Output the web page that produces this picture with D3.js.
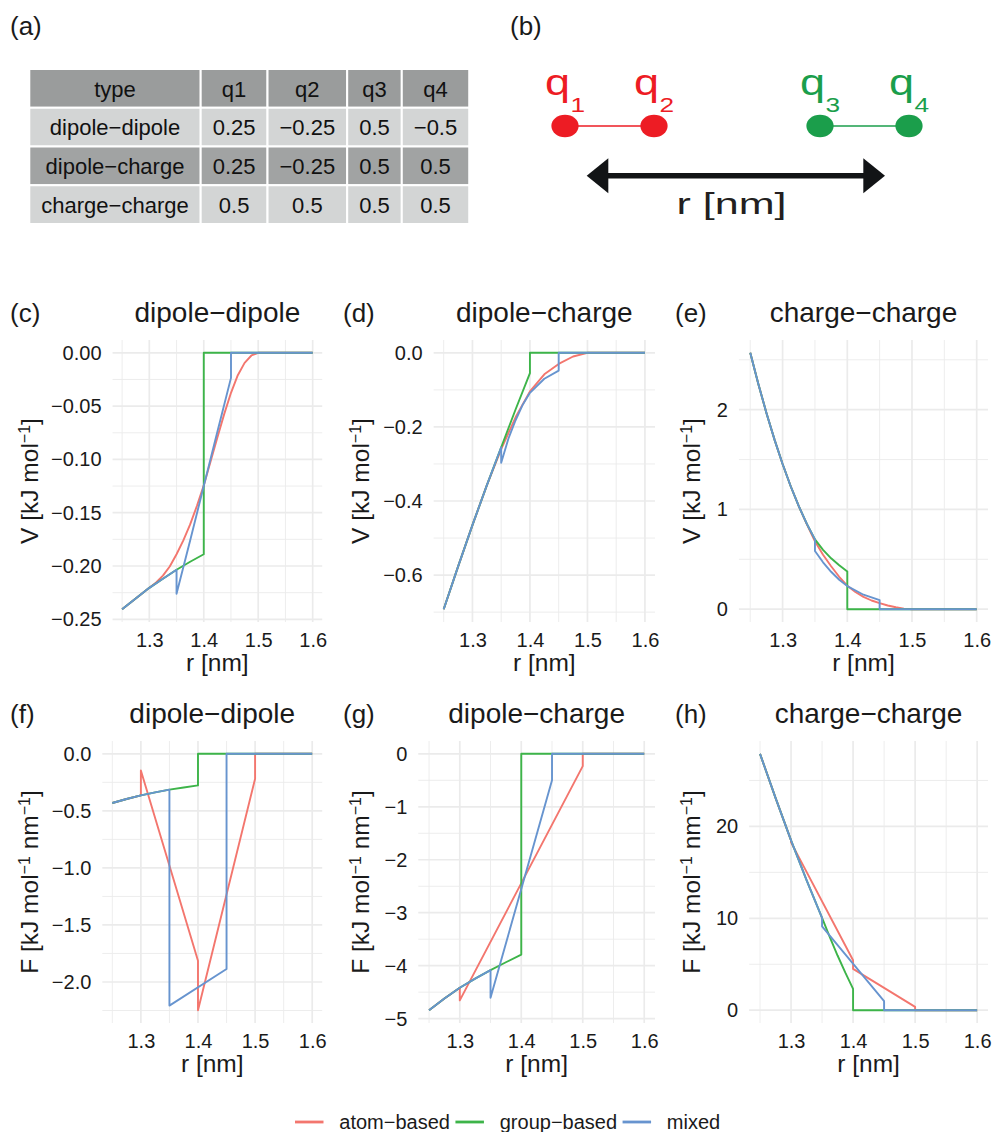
<!DOCTYPE html>
<html>
<head>
<meta charset="utf-8">
<script src="https://cdn.jsdelivr.net/npm/d3@7"></script>
<style>
  body { margin: 0; background: #fff; }
  text { font-family: "Liberation Sans", Arial, Helvetica, sans-serif; }
</style>
</head>
<body>
<div id="fig"></div>
<script>
// ---- data ----
var methodLabels = ["atom−based", "group−based", "mixed"];
var methodColors = ["#f3766e", "#3db449", "#6794cf"];

var tableHeader = ["type", "q1", "q2", "q3", "q4"];
var tableTypes = ["dipole−dipole", "dipole−charge", "charge−charge"];
var tableQ1 = ["0.25", "0.25", "0.5"];
var tableQ2 = ["−0.25", "−0.25", "0.5"];
var tableQ3 = ["0.5", "0.5", "0.5"];
var tableQ4 = ["−0.5", "0.5", "0.5"];

var xTicks = [1.3, 1.4, 1.5, 1.6];

// (c) V, dipole-dipole   [r, V]
var vDDAtom = [[1.25,-0.2405],[1.275,-0.2305],[1.3,-0.2205],[1.3125,-0.2155],[1.325,-0.209],[1.3375,-0.2005],
  [1.35,-0.189],[1.3625,-0.176],[1.375,-0.161],[1.3875,-0.1435],[1.4,-0.1244],[1.4125,-0.102],[1.425,-0.0794],
  [1.4375,-0.0575],[1.45,-0.0375],[1.4625,-0.021],[1.475,-0.0094],[1.4875,-0.0025],[1.5,0],[1.6,0]];
var vDDGroup = [[1.25,-0.2405],[1.275,-0.2305],[1.3,-0.2205],[1.325,-0.212],[1.35,-0.2035],[1.375,-0.196],
  [1.4,-0.189],[1.4,0],[1.6,0]];
var vDDMixed = [[1.25,-0.2405],[1.275,-0.2305],[1.3,-0.2205],[1.325,-0.212],[1.35,-0.2035],[1.35,-0.226],
  [1.375,-0.176],[1.4,-0.125],[1.425,-0.074],[1.45,-0.0235],[1.45,0],[1.6,0]];
var vDDTicks = [-0.25, -0.2, -0.15, -0.1, -0.05, 0];

// (d) V, dipole-charge
var vDCAtom = [[1.25,-0.692],[1.275,-0.577],[1.3,-0.465],[1.325,-0.358],[1.35,-0.26],[1.375,-0.174],
  [1.4,-0.104],[1.425,-0.058],[1.45,-0.03],[1.475,-0.01],[1.5,0],[1.6,0]];
var vDCGroup = [[1.25,-0.692],[1.275,-0.577],[1.3,-0.465],[1.325,-0.358],[1.35,-0.255],[1.375,-0.153],
  [1.4,-0.055],[1.4,0],[1.6,0]];
var vDCMixed = [[1.25,-0.692],[1.275,-0.577],[1.3,-0.465],[1.325,-0.358],[1.35,-0.255],[1.35,-0.297],
  [1.3625,-0.232],[1.375,-0.182],[1.3875,-0.14],[1.4,-0.108],[1.425,-0.07],[1.45,-0.048],[1.45,0],[1.6,0]];
var vDCTicks = [-0.6, -0.4, -0.2, 0];

// (e) V, charge-charge
var vCCAtom = [[1.25,2.57],[1.2625,2.2575],[1.275,1.9675],[1.2875,1.7],[1.3,1.455],[1.3125,1.2325],[1.325,1.0325],
  [1.3375,0.85],[1.35,0.68],[1.3625,0.545],[1.375,0.43],[1.3875,0.325],[1.4,0.235],[1.4125,0.172],[1.425,0.123],
  [1.4375,0.087],[1.45,0.06],[1.4625,0.037],[1.475,0.019],[1.4875,0.006],[1.5,0],[1.6,0]];
var vCCGroup = [[1.25,2.57],[1.2625,2.2575],[1.275,1.9675],[1.2875,1.7],[1.3,1.455],[1.3125,1.2325],[1.325,1.0325],
  [1.3375,0.855],[1.35,0.70],[1.3625,0.595],[1.375,0.51],[1.3875,0.44],[1.4,0.377],[1.4,0],[1.6,0]];
var vCCMixed = [[1.25,2.57],[1.2625,2.2575],[1.275,1.9675],[1.2875,1.7],[1.3,1.455],[1.3125,1.2325],[1.325,1.0325],
  [1.3375,0.855],[1.35,0.70],[1.35,0.583],[1.3625,0.47],[1.375,0.375],[1.3875,0.295],[1.4,0.232],[1.425,0.145],
  [1.45,0.09],[1.45,0],[1.6,0]];
var vCCTicks = [0, 1, 2];

// (f) F, dipole-dipole
var fDDAtom = [[1.25,-0.431],[1.275,-0.396],[1.3,-0.364],[1.3,-0.146],[1.4,-1.814],[1.4,-2.247],[1.5,-0.218],
  [1.5,0],[1.6,0]];
var fDDGroup = [[1.25,-0.431],[1.275,-0.396],[1.3,-0.364],[1.325,-0.338],[1.35,-0.314],[1.375,-0.295],
  [1.4,-0.277],[1.4,0],[1.6,0]];
var fDDMixed = [[1.25,-0.431],[1.275,-0.396],[1.3,-0.364],[1.325,-0.338],[1.35,-0.314],[1.35,-2.207],
  [1.45,-1.886],[1.45,0],[1.6,0]];
var fDDTicks = [-2, -1.5, -1, -0.5, 0];

// (g) F, dipole-charge
var fDCAtom = [[1.25,-4.84],[1.275,-4.62],[1.3,-4.417],[1.3,-4.655],[1.5,-0.232],[1.5,0],[1.6,0]];
var fDCGroup = [[1.25,-4.84],[1.275,-4.62],[1.3,-4.417],[1.325,-4.245],[1.35,-4.085],[1.375,-3.935],
  [1.4,-3.79],[1.4,0],[1.6,0]];
var fDCMixed = [[1.25,-4.84],[1.275,-4.62],[1.3,-4.417],[1.325,-4.245],[1.35,-4.085],[1.35,-4.605],
  [1.45,-0.50],[1.45,0],[1.6,0]];
var fDCTicks = [-5, -4, -3, -2, -1, 0];

// (h) F, charge-charge
var fCCAtom = [[1.25,27.9],[1.275,23.1],[1.3,18.48],[1.3,18.26],[1.4,5.43],[1.4,4.49],[1.5,0.36],[1.5,0],[1.6,0]];
var fCCGroup = [[1.25,27.9],[1.275,23.1],[1.3,18.48],[1.325,14.15],[1.35,10.04],[1.3625,7.95],[1.375,5.95],
  [1.3875,4.08],[1.4,2.32],[1.4,0],[1.6,0]];
var fCCMixed = [[1.25,27.9],[1.275,23.1],[1.3,18.48],[1.325,14.15],[1.35,10.04],[1.35,9.13],[1.45,0.98],
  [1.45,0],[1.6,0]];
var fCCTicks = [0, 10, 20];

// ---- layout ----
var width = 994, height = 1132;
var colLeft = [0, 331.3, 662.7],
    plotRight = [322.2, 655, 988],
    rowTop = [340, 741],
    rowBottom = [622, 1023],
    tagX = [10, 343, 675];
var textCol = "#1a1a1a";

var svg = d3.select("#fig").append("svg")
    .attr("width", width)
    .attr("height", height)
    .style("background", "#fff");

// ---- (a) table ----
svg.append("text").attr("x", 10).attr("y", 35).style("font-size", "26px").attr("fill", textCol).text("(a)");

var tableRows = tableTypes.map(function (t, i) {
    return [t, tableQ1[i], tableQ2[i], tableQ3[i], tableQ4[i]];
});
var tableAll = [tableHeader].concat(tableRows);
var tbl = svg.append("g").style("font-size", "22px");
// column widths from the widest text in each column
var colW = tableHeader.map(function (h, j) {
    var w = 0;
    tableAll.forEach(function (row) {
        var t = tbl.append("text").text(row[j]);
        w = Math.max(w, t.node().getComputedTextLength());
        t.remove();
    });
    return w + 24;
});
var colX = [29.3];
colW.forEach(function (w, j) { colX.push(colX[j] + w); });
var rowH = 38.75, tableTop = 69;
var rowFill = ["#9a9c9c", "#d3d5d5", "#a1a3a3", "#d3d5d5"];
tableAll.forEach(function (row, i) {
    row.forEach(function (cell, j) {
        tbl.append("rect")
            .attr("x", colX[j]).attr("y", tableTop + i * rowH)
            .attr("width", colW[j]).attr("height", rowH)
            .attr("fill", rowFill[i])
            .attr("stroke", "#fff").attr("stroke-width", 2);
        tbl.append("text")
            .attr("x", colX[j] + colW[j] / 2)
            .attr("y", tableTop + i * rowH + rowH / 2 + 8.3)
            .attr("text-anchor", "middle")
            .attr("fill", "#111")
            .text(cell);
    });
});

// ---- (b) sketch ----
svg.append("text").attr("x", 510).attr("y", 35).style("font-size", "26px").attr("fill", textCol).text("(b)");
var red = "#ed1c24", green = "#1b9e4b";
var dipoles = [{ x1: 565, x2: 654, c: red, n: ["1", "2"] }, { x1: 820, x2: 909, c: green, n: ["3", "4"] }];
dipoles.forEach(function (d) {
    svg.append("line").attr("x1", d.x1).attr("x2", d.x2).attr("y1", 126).attr("y2", 126)
        .attr("stroke", d.c).attr("stroke-width", 1.6);
    [d.x1, d.x2].forEach(function (cx, k) {
        svg.append("ellipse").attr("cx", cx).attr("cy", 126).attr("rx", 13.6).attr("ry", 11.2).attr("fill", d.c);
        var t = svg.append("text")
            .attr("transform", "translate(" + (cx - 20) + ",95) scale(1.25,1)")
            .attr("fill", d.c);
        t.append("tspan").attr("x", 0).attr("y", 0).style("font-size", "36px").text("q");
        t.append("tspan").attr("x", 20.4).attr("y", 16.7).style("font-size", "21px").text(d.n[k]);
    });
});
var arrowY = 175.7, arrowCol = "#121416";
svg.append("line").attr("x1", 600).attr("x2", 872).attr("y1", arrowY).attr("y2", arrowY)
    .attr("stroke", arrowCol).attr("stroke-width", 5.5);
svg.append("path").attr("d", d3.line()([[586.7, arrowY], [608.3, 158.3], [608.3, 193.3]]) + "Z").attr("fill", arrowCol);
svg.append("path").attr("d", d3.line()([[885, arrowY], [863.3, 158.3], [863.3, 193.3]]) + "Z").attr("fill", arrowCol);
svg.append("text").attr("x", 676.5).attr("y", 213.5).style("font-size", "29px").attr("fill", "#231f20")
    .attr("textLength", 110).attr("lengthAdjust", "spacingAndGlyphs").text("r [nm]");

// ---- (c)-(h) panels ----
var panels = [
    { tag: "(c)", title: "dipole−dipole", col: 0, row: 0, kind: "V", ticks: vDDTicks, fmt: ".2f", series: [vDDAtom, vDDGroup, vDDMixed] },
    { tag: "(d)", title: "dipole−charge", col: 1, row: 0, kind: "V", ticks: vDCTicks, fmt: ".1f", series: [vDCAtom, vDCGroup, vDCMixed] },
    { tag: "(e)", title: "charge−charge", col: 2, row: 0, kind: "V", ticks: vCCTicks, fmt: "d", series: [vCCAtom, vCCGroup, vCCMixed] },
    { tag: "(f)", title: "dipole−dipole", col: 0, row: 1, kind: "F", ticks: fDDTicks, fmt: ".1f", series: [fDDAtom, fDDGroup, fDDMixed] },
    { tag: "(g)", title: "dipole−charge", col: 1, row: 1, kind: "F", ticks: fDCTicks, fmt: "d", series: [fDCAtom, fDCGroup, fDCMixed] },
    { tag: "(h)", title: "charge−charge", col: 2, row: 1, kind: "F", ticks: fCCTicks, fmt: "d", series: [fCCAtom, fCCGroup, fCCMixed] }
];

function minorBreaks(major, domain) {
    var step = major[1] - major[0];
    var ext = [major[0] - step].concat(major, [major[major.length - 1] + step]);
    var out = [];
    for (var i = 0; i < ext.length - 1; i++) {
        var m = (ext[i] + ext[i + 1]) / 2;
        if (m >= domain[0] && m <= domain[1]) out.push(m);
    }
    return out;
}

var tickSize = "20px";

panels.forEach(function (p) {
    var x0 = colLeft[p.col], top = rowTop[p.row], bottom = rowBottom[p.row];
    var fmt = d3.format(p.fmt);

    // measure tick labels so the panel starts right after them (like ggplot)
    var probe = svg.append("g").style("font-size", tickSize);
    var maxW = d3.max(p.ticks, function (t) {
        return probe.append("text").text(fmt(t)).node().getComputedTextLength();
    });
    probe.remove();
    var left = x0 + 66 + 0.92 * maxW, right = plotRight[p.col];

    var all = d3.merge(p.series);
    var ext = d3.extent(all, function (d) { return d[1]; });
    var pad = (ext[1] - ext[0]) * 0.05;
    var xDom = [1.25 - 0.0175, 1.6 + 0.0175];
    var x = d3.scaleLinear().domain(xDom).range([left, right]);
    var y = d3.scaleLinear().domain([ext[0] - pad, ext[1] + pad]).range([bottom, top]);

    var g = svg.append("g");

    // grid
    var grid = g.append("g").attr("fill", "none").attr("stroke", "#ebebeb");
    minorBreaks(xTicks, xDom).forEach(function (v) {
        grid.append("line").attr("x1", x(v)).attr("x2", x(v)).attr("y1", top).attr("y2", bottom).attr("stroke-width", 0.9);
    });
    minorBreaks(p.ticks, y.domain()).forEach(function (v) {
        grid.append("line").attr("x1", left).attr("x2", right).attr("y1", y(v)).attr("y2", y(v)).attr("stroke-width", 0.9);
    });
    xTicks.forEach(function (v) {
        grid.append("line").attr("x1", x(v)).attr("x2", x(v)).attr("y1", top).attr("y2", bottom).attr("stroke-width", 1.7);
    });
    p.ticks.forEach(function (v) {
        grid.append("line").attr("x1", left).attr("x2", right).attr("y1", y(v)).attr("y2", y(v)).attr("stroke-width", 1.7);
    });

    // axes
    var ya = g.append("g").attr("transform", "translate(" + left + ",0)")
        .call(d3.axisLeft(y).tickValues(p.ticks).tickFormat(fmt).tickSize(0).tickPadding(11));
    var xa = g.append("g").attr("transform", "translate(0," + bottom + ")")
        .call(d3.axisBottom(x).tickValues(xTicks).tickFormat(d3.format(".1f")).tickSize(0).tickPadding(11));
    [ya, xa].forEach(function (a) {
        a.select(".domain").remove();
        a.attr("font-family", null).attr("font-size", null);
        a.selectAll("text").style("font-size", tickSize).attr("fill", textCol);
    });

    // lines
    var line = d3.line().x(function (d) { return x(d[0]); }).y(function (d) { return y(d[1]); });
    p.series.forEach(function (s, i) {
        g.append("path").datum(s)
            .attr("d", line)
            .attr("fill", "none")
            .attr("stroke", methodColors[i])
            .attr("stroke-width", 1.9)
            .attr("stroke-linejoin", "round");
    });

    // titles
    var base = p.row === 0 ? 322.3 : 723.3;
    g.append("text").attr("x", tagX[p.col]).attr("y", base).style("font-size", "26px").attr("fill", textCol).text(p.tag);
    g.append("text").attr("x", (left + right) / 2).attr("y", base).attr("text-anchor", "middle")
        .style("font-size", "28px").attr("fill", textCol).text(p.title);
    g.append("text").attr("x", (left + right) / 2).attr("y", bottom + 49).attr("text-anchor", "middle")
        .style("font-size", "24.5px").attr("fill", textCol).text("r [nm]");

    var yt = g.append("text")
        .attr("transform", "translate(" + (x0 + 37.5) + "," + ((top + bottom) / 2) + ") rotate(-90)")
        .attr("text-anchor", "middle").style("font-size", "24.5px").attr("fill", textCol);
    yt.append("tspan").text(p.kind + " [kJ mol");
    yt.append("tspan").attr("baseline-shift", "super").style("font-size", "16px").text("−1");
    if (p.kind === "F") {
        yt.append("tspan").text(" nm");
        yt.append("tspan").attr("baseline-shift", "super").style("font-size", "16px").text("−1");
    }
    yt.append("tspan").text("]");
});

// ---- legend ----
var leg = svg.append("g").style("font-size", "20px");
var lx = 295, ly = 1122;
methodLabels.forEach(function (lab, i) {
    leg.append("line").attr("x1", lx).attr("x2", lx + 28.5).attr("y1", ly).attr("y2", ly)
        .attr("stroke", methodColors[i]).attr("stroke-width", 2.8);
    var t = leg.append("text").attr("x", lx + 44.3).attr("y", ly + 7).attr("fill", textCol).text(lab);
    lx = lx + 44.3 + t.node().getComputedTextLength() + 5.5;
});
</script>
</body>
</html>
